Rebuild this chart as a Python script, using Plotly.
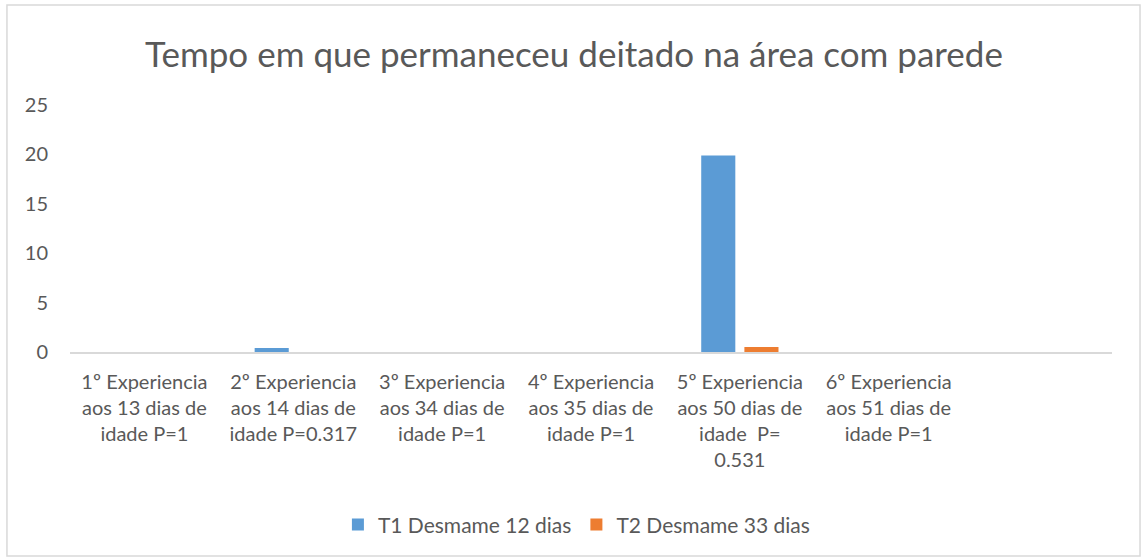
import plotly.graph_objects as go

# Dados do gráfico
categorias = [
    "1º Experiencia<br>aos 13 dias de<br>idade P=1",
    "2º Experiencia<br>aos 14 dias de<br>idade P=0.317",
    "3º Experiencia<br>aos 34 dias de<br>idade P=1",
    "4º Experiencia<br>aos 35 dias de<br>idade P=1",
    "5º Experiencia<br>aos 50 dias de<br>idade  P=<br>0.531",
    "6º Experiencia<br>aos 51 dias de<br>idade P=1",
]
t1_valores = [0, 0.4, 0, 0, 19.9, 0]
t2_valores = [0, 0, 0, 0, 0.5, 0]
nome_t1 = "T1 Desmame 12 dias"
nome_t2 = "T2 Desmame 33 dias"
titulo = "Tempo em que permaneceu deitado na área com parede"

cor_texto = "#595959"
fonte = "Lato, 'Open Sans', sans-serif"

fig = go.Figure()
fig.add_trace(go.Bar(x=categorias, y=t1_valores, name=nome_t1,
                     marker=dict(color="#5B9BD5", line=dict(width=0))))
fig.add_trace(go.Bar(x=categorias, y=t2_valores, name=nome_t2,
                     marker=dict(color="#ED7D31", line=dict(width=0))))

# moldura externa do gráfico (em coordenadas de papel)
fig.add_shape(type="rect", xref="paper", yref="paper",
              x0=-0.0605, x1=1.0269, y0=-0.826, y1=1.405,
              line=dict(color="#d9d9d9", width=1.5), layer="below")

fig.update_layout(
    width=1142, height=560,
    margin=dict(l=70, r=30, t=105, b=208),
    paper_bgcolor="white", plot_bgcolor="white",
    font=dict(family=fonte, size=20, color=cor_texto),
    title=dict(text=titulo, x=0.5026, xref="container", xanchor="center",
               y=0.902, yref="container", yanchor="middle",
               font=dict(size=35, color=cor_texto, family=fonte)),
    barmode="group", bargap=0.42, bargroupgap=0.21,
    xaxis=dict(type="category", range=[-0.5, 6.5], showgrid=False,
               showline=True, linecolor="#d9d9d9", linewidth=2,
               ticks="", ticklabelstandoff=11,
               tickfont=dict(size=20, color=cor_texto)),
    yaxis=dict(range=[0, 25], dtick=5, showgrid=False, zeroline=False,
               showline=False, ticks="", ticklabelstandoff=21,
               tickfont=dict(size=20, color=cor_texto)),
    legend=dict(orientation="h", x=0.486, xanchor="center",
                y=-0.70, yanchor="middle", font=dict(size=21, color=cor_texto),
                itemwidth=30, traceorder="normal"),
    showlegend=True,
)

# remove a margem padrão da página para a figura ficar alinhada ao canto
fig.write_html("out.html", config={"displayModeBar": False},
               post_script="document.body.style.margin='0';")
